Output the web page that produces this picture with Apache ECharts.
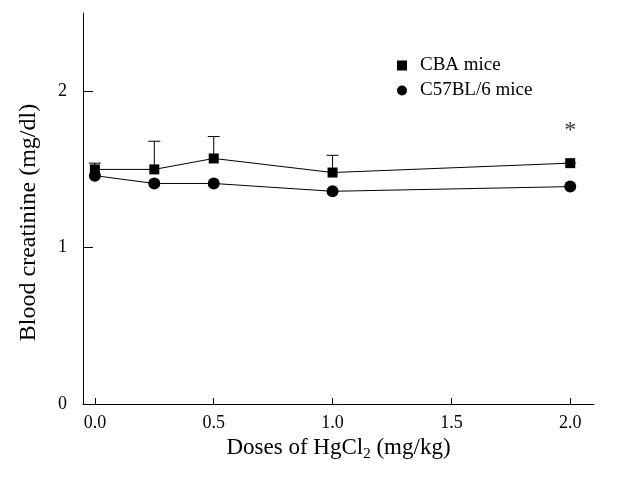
<!DOCTYPE html>
<html>
<head>
<meta charset="utf-8">
<script src="https://cdn.jsdelivr.net/npm/echarts@6/dist/echarts.min.js"></script>
<style>
html, body { margin: 0; padding: 0; background: #fff; }
#main { width: 626px; height: 483px; }
</style>
</head>
<body>
<div id="main"></div>
<script>
// doses (mg/kg)
var doses = [0, 0.25, 0.5, 1.0, 2.0];
// blood creatinine (mg/dl)
var cbaMean = [1.50, 1.50, 1.57, 1.48, 1.54];
var cbaTop = [1.54, 1.68, 1.71, 1.59, 1.54];
var c57Mean = [1.46, 1.41, 1.41, 1.36, 1.39];
// significance mark
var starX = [2.0];
var starY = [1.75];
var xTicks = [0, 0.5, 1.0, 1.5, 2.0];
var yTicks = [0, 1, 2];

var serif = '"Liberation Serif", "DejaVu Serif", serif';

var chart = echarts.init(document.getElementById('main'));

function pairs(xs, ys) {
    var out = [];
    for (var i = 0; i < xs.length; i++) out.push([xs[i], ys[i]]);
    return out;
}

var errData = [];
for (var i = 0; i < doses.length; i++) {
    errData.push([doses[i], cbaMean[i], cbaTop[i]]);
}

var option = {
    animation: false,
    backgroundColor: '#fff',
    grid: { left: 83, right: 32, top: 13, bottom: 79 },
    legend: {
        orient: 'vertical',
        left: 392,
        top: 51,
        itemGap: 6,
        itemWidth: 10,
        itemHeight: 10,
        data: [
            { name: 'CBA mice', icon: 'rect', itemStyle: { color: '#000' } },
            { name: 'C57BL/6 mice', icon: 'circle', itemStyle: { color: '#000' } }
        ],
        textStyle: { fontFamily: serif, fontSize: 19, color: '#000', padding: [0, 0, 0, 8] }
    },
    xAxis: {
        type: 'value',
        min: -0.05,
        max: 2.1,
        splitLine: { show: false },
        axisLine: { onZero: false, lineStyle: { color: '#000', width: 1 } },
        axisTick: { inside: true, length: 6, customValues: xTicks, lineStyle: { color: '#000' } },
        axisLabel: {
            customValues: xTicks,
            formatter: function (v) { return v.toFixed(1); },
            fontFamily: serif, fontSize: 18, color: '#000', margin: 10
        },
        name: 'Doses of HgCl{sub|2} (mg/kg)',
        nameLocation: 'middle',
        nameGap: 26,
        nameTextStyle: {
            fontFamily: serif, fontSize: 23, color: '#000',
            rich: { sub: { fontFamily: serif, fontSize: 15, color: '#000', padding: [12, 0, 0, 0] } }
        }
    },
    yAxis: {
        type: 'value',
        min: 0,
        max: 2.5,
        splitLine: { show: false },
        axisLine: { onZero: false, lineStyle: { color: '#000', width: 1 } },
        axisTick: { inside: true, length: 10, customValues: yTicks, lineStyle: { color: '#000' } },
        axisLabel: {
            customValues: yTicks,
            fontFamily: serif, fontSize: 18, color: '#000', margin: 16
        },
        name: 'Blood creatinine (mg/dl)',
        nameLocation: 'middle',
        nameGap: 42,
        nameTextStyle: { fontFamily: serif, fontSize: 24, color: '#000', padding: [0, 28, 0, 0] }
    },
    series: [
        {
            name: 'CBA error',
            type: 'custom',
            data: errData,
            z: 1,
            renderItem: function (params, api) {
                var p0 = api.coord([api.value(0), api.value(1)]);
                var p1 = api.coord([api.value(0), api.value(2)]);
                return {
                    type: 'group',
                    children: [
                        { type: 'line', shape: { x1: p0[0], y1: p0[1], x2: p1[0], y2: p1[1] },
                          style: { stroke: '#000', lineWidth: 1 } },
                        { type: 'line', shape: { x1: p1[0] - 6, y1: p1[1], x2: p1[0] + 6, y2: p1[1] },
                          style: { stroke: '#000', lineWidth: 1 } }
                    ]
                };
            }
        },
        {
            name: 'CBA mice',
            type: 'line',
            data: pairs(doses, cbaMean),
            symbol: 'rect',
            symbolSize: 10,
            itemStyle: { color: '#000' },
            lineStyle: { color: '#000', width: 1 },
            z: 3
        },
        {
            name: 'C57BL/6 mice',
            type: 'line',
            data: pairs(doses, c57Mean),
            symbol: 'circle',
            symbolSize: 12,
            itemStyle: { color: '#000' },
            lineStyle: { color: '#000', width: 1 },
            z: 3
        },
        {
            name: 'sig',
            type: 'scatter',
            data: pairs(starX, starY),
            symbol: 'circle',
            symbolSize: 1,
            itemStyle: { color: 'rgba(0,0,0,0)' },
            label: {
                show: true,
                position: 'inside',
                formatter: '*',
                fontFamily: serif,
                fontSize: 24,
                color: '#000'
            }
        }
    ]
};

chart.setOption(option);
</script>
</body>
</html>
